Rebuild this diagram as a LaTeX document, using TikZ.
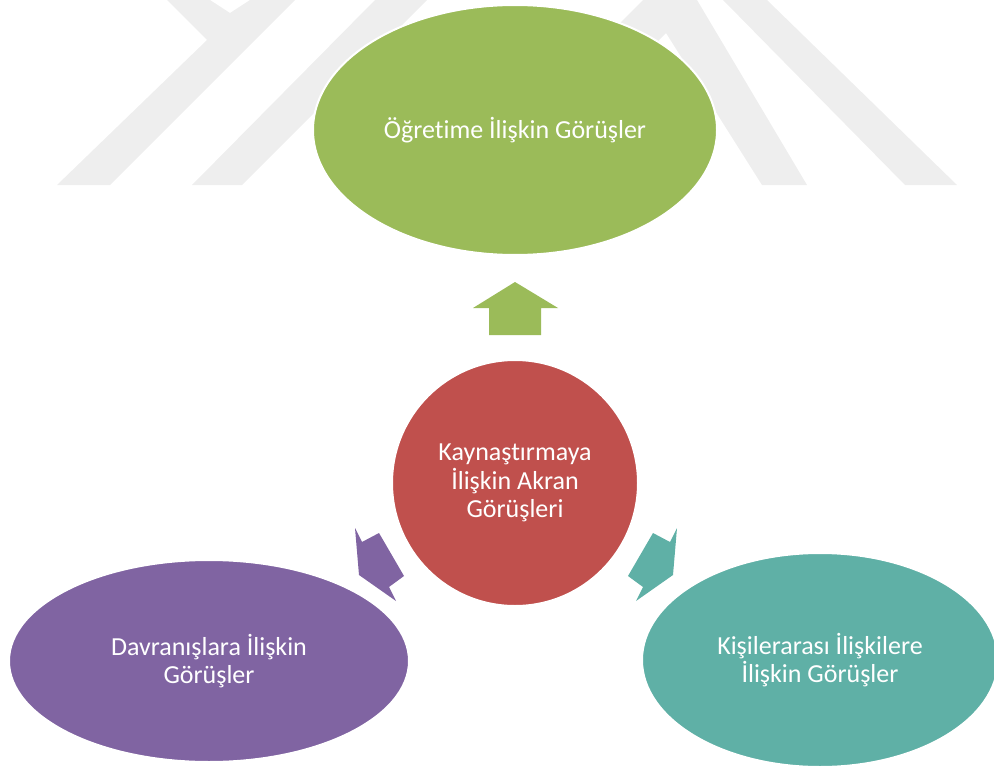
\documentclass[tikz,border=0pt]{standalone}
\usepackage{fontspec}
\setmainfont{Carlito}[Ligatures=NoCommon]
\usepackage{tikz}
\usetikzlibrary{shapes.geometric}
\definecolor{wmgray}{HTML}{EEEEEE}
\definecolor{ogreen}{HTML}{9BBB59}
\definecolor{ored}{HTML}{C0504D}
\definecolor{opurple}{HTML}{8064A2}
\definecolor{oteal}{HTML}{5FB0A6}
\tikzstyle{view} = [ellipse, draw=white, line width=2pt, text=white, align=center, inner sep=0pt, font=\fontsize{26}{28.5}\selectfont]
\tikzstyle{watermark} = [fill=wmgray]

\begin{document}
\begin{tikzpicture}[x=1pt, y=-1pt]
    \useasboundingbox (0,0) rectangle (994,768);

    % watermark
    \fill[watermark] (167,0) -- (210,0) -- (230,13) -- (250,0) -- (295,0) -- (110,185) -- (57,185) -- (207,40) -- cycle;
    \fill[watermark] (375,0) -- (427,0) -- (242,185) -- (192,185) -- cycle;
    \fill[watermark] (643,0) -- (697,0) -- (807,185) -- (762,185) -- (666,33) -- (514,185) -- (458,185) -- cycle;
    \fill[watermark] (723,0) -- (767,0) -- (957,185) -- (905,185) -- cycle;

    % outer views
    \node[view, fill=ogreen, minimum width=404pt, minimum height=250pt] (ogretim) at (515,130) {Öğretime İlişkin Görüşler};
    \node[view, fill=opurple, minimum width=400pt, minimum height=202pt] (davranis) at (209,661) {Davranışlara İlişkin\\Görüşler};
    \node[view, fill=oteal, minimum width=356pt, minimum height=214pt] (kisiler) at (820,660) {Kişilerarası İlişkilere\\İlişkin Görüşler};
    % centre
    \node[view, circle, fill=ored, minimum size=246pt] (akran) at (515,483) {Kaynaştırmaya\\İlişkin Akran\\Görüşleri};

    % block arrows
    \fill[ogreen] (515,282) -- (558,308) -- (541,308) -- (541,335) -- (489,335) -- (489,308) -- (473,308) -- cycle;
    \fill[opurple] (355,528) -- (362,542) -- (379,533) -- (404,576) -- (389,587) -- (396,601) -- (359,575) -- cycle;
    \fill[oteal] (677,528) -- (670,542) -- (653,533) -- (628,576) -- (643,587) -- (636,601) -- (673,575) -- cycle;
\end{tikzpicture}
\end{document}
